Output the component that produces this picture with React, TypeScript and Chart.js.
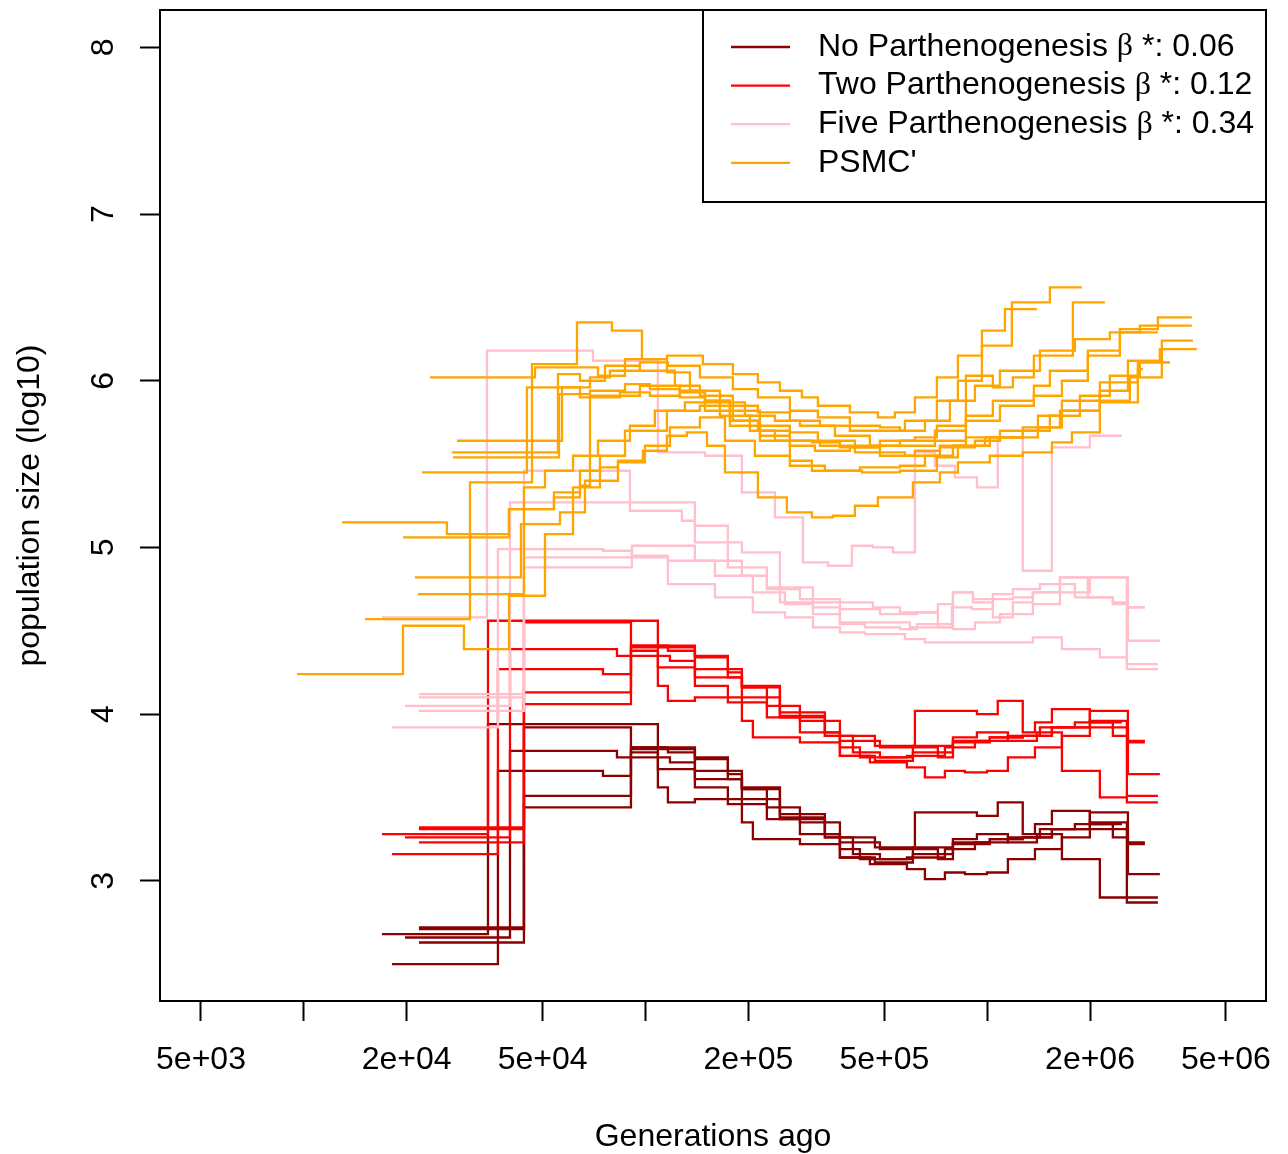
import React, { useEffect, useRef } from "react";
import { Chart, registerables } from "chart.js";

Chart.register(...registerables);

// ---------------------------------------------------------------------------
// Data: step-wise population-size histories (log10 N) against generations ago.
// Each *_GENS row holds the start of every step plus the end of the last one,
// so it is one entry longer than the matching *_LOGN row.
// ---------------------------------------------------------------------------

// Time breakpoints shared by the "No" and "Two" parthenogenesis replicates.
const REP_GENS: number[][] = [
  [16930, 34590, 108700, 139500, 174200, 191500, 247400, 335000, 469300, 614500, 815600, 933300, 1074000, 1271000, 1380000, 1547000, 1998000, 2479000],
  [18110, 36990, 75070, 90660, 139500, 174200, 191500, 247400, 335000, 370700, 424200, 582300, 752200, 920800, 1150000, 1427000, 1998000, 2564000, 3160000],
  [19770, 40120, 82500, 117900, 139500, 191500, 226600, 283100, 370700, 485400, 606200, 793900, 933300, 1150000, 1398000, 1655000, 2137000, 2564000, 3160000],
  [21720, 44080, 90660, 108700, 116300, 139500, 191500, 206200, 283100, 370700, 469300, 606200, 793900, 1018000, 1271000, 1547000, 1998000, 2582000, 3202000],
  [21720, 44080, 90660, 116300, 139500, 191500, 247400, 335000, 404600, 485400, 606200, 717400, 793900, 1018000, 1271000, 1547000, 1806000, 2333000, 2582000, 2895000],
  [21720, 44080, 90660, 108700, 139500, 174200, 226600, 283100, 370700, 453700, 582300, 657400, 752200, 860800, 998300, 1150000, 1380000, 1655000, 1998000, 2582000, 2895000],
];

const NO_PARTH_LOGN: number[][] = [
  [2.68, 3.94, 3.80, 3.74, 3.61, 3.56, 3.38, 3.26, 3.20, 3.41, 3.41, 3.39, 3.47, 3.28, 3.34, 3.42, 3.34],
  [2.50, 3.66, 3.63, 3.79, 3.73, 3.64, 3.55, 3.40, 3.28, 3.19, 3.13, 3.14, 3.19, 3.23, 3.26, 3.31, 3.35, 2.90],
  [2.66, 3.78, 3.74, 3.71, 3.66, 3.55, 3.44, 3.35, 3.23, 3.19, 3.20, 3.25, 3.28, 3.23, 3.28, 3.13, 2.90, 2.87],
  [2.72, 3.92, 3.80, 3.56, 3.47, 3.49, 3.35, 3.25, 3.22, 3.14, 3.11, 3.16, 3.22, 3.25, 3.26, 3.31, 3.41, 3.04],
  [2.71, 3.51, 3.80, 3.77, 3.61, 3.49, 3.37, 3.26, 3.16, 3.13, 3.19, 3.13, 3.23, 3.25, 3.26, 3.31, 3.34, 3.26, 3.23],
  [2.63, 3.44, 3.77, 3.67, 3.56, 3.46, 3.37, 3.28, 3.14, 3.10, 3.07, 3.01, 3.05, 3.04, 3.05, 3.13, 3.19, 3.26, 3.31, 3.22],
];

const TWO_PARTH_LOGN: number[][] = [
  [3.28, 4.56, 4.41, 4.35, 4.22, 4.17, 3.99, 3.87, 3.81, 4.02, 4.02, 4.00, 4.08, 3.89, 3.95, 4.03, 3.95],
  [3.16, 4.27, 4.24, 4.40, 4.34, 4.25, 4.16, 4.01, 3.89, 3.80, 3.74, 3.75, 3.80, 3.84, 3.87, 3.92, 3.96, 3.51],
  [3.26, 4.39, 4.35, 4.32, 4.27, 4.16, 4.05, 3.96, 3.84, 3.80, 3.81, 3.86, 3.89, 3.84, 3.89, 3.66, 3.50, 3.47],
  [3.32, 4.55, 4.41, 4.17, 4.08, 4.10, 3.96, 3.86, 3.83, 3.75, 3.72, 3.77, 3.83, 3.86, 3.87, 3.92, 4.02, 3.64],
  [3.31, 4.13, 4.41, 4.38, 4.22, 4.10, 3.98, 3.87, 3.77, 3.74, 3.80, 3.74, 3.84, 3.86, 3.87, 3.92, 3.95, 3.87, 3.84],
  [3.23, 4.06, 4.38, 4.28, 4.17, 4.07, 3.98, 3.89, 3.75, 3.71, 3.68, 3.62, 3.66, 3.65, 3.66, 3.74, 3.80, 3.87, 3.92, 3.83],
];

const FIVE_PARTH_GENS: number[][] = [
  [16930, 34350, 70190, 108700, 149300, 191500, 239200, 288900, 341800, 401900, 463000, 529800, 614500, 703100, 804700, 933300, 1074000, 1271000, 1547000, 1998000, 2479000],
  [18110, 36990, 75070, 91270, 116300, 159600, 206200, 255900, 309000, 370700, 438700, 574500, 657400, 998300, 1361000, 1655000, 2137000, 2564000, 3160000],
  [19770, 40120, 139500, 191500, 247400, 463000, 555500, 717400, 793900, 908500, 1189000, 1361000, 1633000, 2564000, 3160000],
  [21720, 44080, 90050, 127800, 139500, 174200, 226600, 309000, 370700, 438700, 555500, 622800, 793900, 920800, 1090000, 1361000, 1633000, 1998000, 2582000, 3202000],
  [21720, 44080, 91270, 139500, 191500, 226600, 283100, 370700, 485400, 622800, 717400, 793900, 908500, 1039000, 1189000, 1361000, 1633000, 1971000, 2333000, 2582000, 2895000],
  [21720, 44080, 91270, 116300, 159600, 206200, 255900, 309000, 370700, 485400, 594100, 679800, 788600, 902400, 1039000, 1189000, 1427000, 1806000, 2333000, 2582000, 2895000],
];

const FIVE_PARTH_LOGN: number[][] = [
  [4.58, 6.18, 6.12, 5.57, 5.55, 5.33, 5.18, 4.91, 4.89, 5.01, 5.00, 4.97, 5.57, 5.49, 5.42, 5.36, 5.66, 4.86, 5.60, 5.67],
  [3.92, 4.99, 4.98, 4.94, 4.78, 4.70, 4.61, 4.58, 4.52, 4.49, 4.48, 4.45, 4.43, 4.43, 4.46, 4.39, 4.34, 4.27],
  [4.05, 5.27, 5.03, 4.97, 4.67, 4.64, 4.61, 4.66, 4.73, 4.69, 4.70, 4.73, 4.82, 4.30],
  [4.12, 5.46, 5.22, 5.16, 5.13, 4.88, 4.76, 4.64, 4.54, 4.52, 4.51, 4.54, 4.51, 4.55, 4.60, 4.66, 4.73, 4.82, 4.44],
  [4.10, 4.94, 5.01, 4.92, 4.83, 4.75, 4.69, 4.63, 4.60, 4.61, 4.52, 4.73, 4.67, 4.58, 4.67, 4.73, 4.82, 4.70, 4.67, 4.64],
  [4.02, 4.88, 4.95, 4.92, 4.83, 4.73, 4.66, 4.60, 4.55, 4.55, 4.52, 4.52, 4.64, 4.63, 4.72, 4.75, 4.78, 4.70, 4.66, 4.64],
];

const PSMC_GENS: number[][] = [
  [9550, 19500, 29420, 39850, 50790, 61340, 73570, 83060, 98290, 115500, 132200, 151300, 170800, 213300, 259300, 306900, 353600, 410100, 478800, 606200, 727300, 821100, 1018000, 1271000, 1547000, 1770000, 2137000, 2761000, 2856000],
  [12930, 26230, 39850, 53960, 64300, 73570, 87090, 115500, 144300, 180200, 213300, 264600, 323900, 410100, 485400, 614500, 727300, 866600, 1090000, 1408000, 1655000, 2137000, 2761000, 3425000],
  [15100, 30640, 46530, 63010, 79770, 97630, 115500, 147200, 180200, 213300, 247400, 286900, 319600, 396500, 478800, 537000, 614500, 712600, 821100, 965300, 1127000, 1398000],
  [19500, 39850, 53960, 64300, 68790, 96320, 126100, 149300, 176600, 216200, 264600, 313200, 396500, 485400, 555500, 703100, 866600, 1090000, 1370000, 1655000, 1971000, 2446000, 3160000, 3972000],
  [21140, 43200, 56200, 66500, 83060, 99620, 117900, 144300, 170800, 209000, 264600, 335000, 424200, 555500, 657400, 793900, 985000, 1271000, 1633000, 2137000, 2582000, 3202000, 4108000],
  [21570, 44080, 50790, 61340, 72600, 90050, 106500, 130400, 165100, 202100, 239200, 306900, 370700, 485400, 574500, 727300, 920800, 1090000, 1408000, 1655000, 2137000, 2616000, 3245000, 3999000],
  [22170, 44980, 64300, 84200, 103000, 126100, 149300, 176600, 216200, 264600, 319600, 410100, 485400, 614500, 712600, 866600, 1039000, 1370000, 1526000, 1971000, 2446000, 3160000],
  [23400, 47480, 72600, 87090, 115500, 134900, 165100, 195400, 239200, 283100, 358400, 453700, 703100, 866600, 1039000, 1189000, 1370000, 1782000, 2210000],
  [27130, 55440, 64300, 76090, 96320, 121900, 144300, 180200, 213300, 264600, 323900, 396500, 574500, 712600, 821100, 965300, 1181000, 1526000, 1893000],
  [27320, 55820, 68790, 87090, 103000, 126100, 149300, 176600, 216200, 264600, 306900, 430000, 555500, 712600, 821100, 1018000, 1271000, 1526000, 1868000, 2286000, 2799000, 3425000],
  [28060, 56960, 68790, 78700, 96320, 116300, 144300, 180200, 213300, 264600, 319600, 396500, 485400, 555500, 657400, 778000, 920800, 1090000, 1427000, 1806000, 2286000, 2799000, 3972000],
];

const PSMC_LOGN: number[][] = [
  [4.24, 4.53, 4.39, 4.71, 5.08, 5.36, 5.48, 5.52, 5.58, 5.67, 5.69, 5.61, 5.45, 5.30, 5.21, 5.18, 5.19, 5.25, 5.30, 5.39, 5.45, 5.51, 5.55, 5.57, 5.63, 5.69, 5.87, 6.07],
  [5.15, 5.08, 5.23, 5.33, 5.46, 5.55, 5.70, 5.82, 5.85, 5.76, 5.70, 5.64, 5.61, 5.57, 5.55, 5.58, 5.61, 5.66, 5.70, 5.79, 5.88, 5.99, 6.11],
  [4.57, 5.39, 6.10, 6.35, 6.30, 6.13, 6.15, 6.10, 6.04, 5.99, 5.94, 5.90, 5.85, 5.81, 5.78, 5.81, 5.90, 6.02, 6.15, 6.30, 6.43],
  [5.06, 5.23, 5.30, 5.37, 5.91, 5.97, 5.93, 5.88, 5.76, 5.67, 5.61, 5.58, 5.60, 5.61, 5.64, 5.70, 5.76, 5.85, 5.91, 6.00, 6.18, 6.31, 6.38],
  [4.82, 5.14, 5.21, 5.40, 5.51, 5.61, 5.72, 5.78, 5.64, 5.55, 5.49, 5.46, 5.48, 5.49, 5.55, 5.61, 5.66, 5.72, 5.82, 5.94, 6.12, 6.19],
  [4.72, 5.36, 5.46, 5.55, 5.64, 5.73, 5.82, 5.87, 5.79, 5.70, 5.64, 5.63, 5.60, 5.57, 5.55, 5.60, 5.64, 5.66, 5.72, 5.82, 5.88, 6.02, 6.24],
  [5.45, 5.96, 5.90, 5.93, 5.91, 5.94, 5.88, 5.82, 5.73, 5.69, 5.64, 5.61, 5.64, 5.66, 5.73, 5.79, 5.88, 5.97, 6.06, 6.15, 6.29],
  [6.02, 6.08, 6.03, 6.13, 6.05, 5.94, 5.87, 5.79, 5.76, 5.73, 5.67, 5.61, 5.64, 6.03, 5.96, 6.02, 6.15, 6.47],
  [5.57, 6.04, 6.00, 6.09, 6.06, 5.97, 5.91, 5.85, 5.81, 5.76, 5.73, 5.70, 5.76, 5.88, 6.00, 6.21, 6.47, 6.56],
  [5.54, 5.92, 5.94, 5.98, 5.95, 5.90, 5.82, 5.73, 5.64, 5.52, 5.46, 5.45, 5.46, 5.54, 5.61, 5.66, 5.70, 5.79, 5.91, 6.03, 6.11],
  [5.64, 5.96, 6.02, 6.06, 6.11, 6.09, 6.02, 5.95, 5.90, 5.82, 5.78, 5.73, 5.72, 5.70, 5.76, 5.88, 5.97, 6.06, 6.18, 6.25, 6.29, 6.33],
];

// Axis ticks and labels
const X_TICKS = [5e3, 1e4, 2e4, 5e4, 1e5, 2e5, 5e5, 1e6, 2e6, 5e6];
const X_TICK_LABELS = ["5e+03", "", "2e+04", "5e+04", "", "2e+05", "5e+05", "", "2e+06", "5e+06"];
const Y_TICKS = [3, 4, 5, 6, 7, 8];
const X_RANGE = [3793, 6.548e6];
const Y_RANGE = [2.279, 8.224];

const X_TITLE = "Generations ago";
const Y_TITLE = "population size (log10)";

const SERIES_NAMES = [
  "No Parthenogenesis β *: 0.06",
  "Two Parthenogenesis β *: 0.12",
  "Five Parthenogenesis β *: 0.34",
  "PSMC'",
];
const SERIES_COLORS = ["#8B0000", "#FF0000", "#FFC0CB", "#FFA500"];

const SANS = "'Liberation Sans', Arial, Helvetica, sans-serif";
const SERIF = "'Liberation Serif', 'DejaVu Serif', serif";
const FONT_PX = 32;
const LINE_W = 2.3;

function stepPoints(gens: number[], logn: number[]) {
  const pts = logn.map((v, i) => ({ x: gens[i], y: v }));
  pts.push({ x: gens[logn.length], y: logn[logn.length - 1] });
  return pts;
}

function lineSet(gens: number[], logn: number[], color: string) {
  return {
    data: stepPoints(gens, logn),
    borderColor: color,
    backgroundColor: color,
    borderWidth: LINE_W,
    stepped: "before" as const,
    pointRadius: 0,
    fill: false,
  };
}

// Frame, rotated y labels, axis titles and the legend box.
const decorations = {
  id: "decorations",
  beforeDraw(chart: any) {
    const { ctx, width, height } = chart;
    ctx.save();
    ctx.fillStyle = "#ffffff";
    ctx.fillRect(0, 0, width, height);
    ctx.restore();
  },
  afterDraw(chart: any) {
    const { ctx, chartArea: a, scales } = chart;
    ctx.save();
    ctx.strokeStyle = "#000";
    ctx.lineWidth = 2;
    ctx.strokeRect(a.left, a.top, a.right - a.left, a.bottom - a.top);

    ctx.fillStyle = "#000";
    ctx.font = `${FONT_PX}px ${SANS}`;
    ctx.textAlign = "center";
    ctx.textBaseline = "middle";
    for (const v of Y_TICKS) {
      const y = scales.y.getPixelForValue(v);
      ctx.save();
      ctx.translate(a.left - 56, y);
      ctx.rotate(-Math.PI / 2);
      ctx.fillText(String(v), 0, 0);
      ctx.restore();
    }

    ctx.fillText(X_TITLE, (a.left + a.right) / 2, 1137);
    ctx.save();
    ctx.translate(30, (a.top + a.bottom) / 2);
    ctx.rotate(-Math.PI / 2);
    ctx.fillText(Y_TITLE, 0, 0);
    ctx.restore();

    // legend
    const boxL = 703;
    const boxT = a.top;
    const boxR = a.right;
    const boxB = 202;
    ctx.fillStyle = "#fff";
    ctx.fillRect(boxL, boxT, boxR - boxL, boxB - boxT);
    ctx.strokeStyle = "#000";
    ctx.lineWidth = 2;
    ctx.strokeRect(boxL, boxT, boxR - boxL, boxB - boxT);
    ctx.textAlign = "left";
    ctx.textBaseline = "middle";
    SERIES_NAMES.forEach((name, i) => {
      const y = boxT + 37 + i * 38.6;
      ctx.strokeStyle = SERIES_COLORS[i];
      ctx.lineWidth = LINE_W;
      ctx.beginPath();
      ctx.moveTo(boxL + 28, y);
      ctx.lineTo(boxL + 87, y);
      ctx.stroke();
      ctx.fillStyle = "#000";
      let x = boxL + 115;
      const parts = name.split("β");
      parts.forEach((part, j) => {
        ctx.font = `${FONT_PX}px ${SANS}`;
        ctx.fillText(part, x, y);
        x += ctx.measureText(part).width;
        if (j < parts.length - 1) {
          ctx.font = `${FONT_PX}px ${SERIF}`;
          ctx.fillText("β", x, y);
          x += ctx.measureText("β").width;
        }
      });
    });
    ctx.restore();
  },
};

export default function App() {
  const canvasRef = useRef<HTMLCanvasElement | null>(null);

  useEffect(() => {
    const canvas = canvasRef.current;
    if (!canvas) return;

    // Orange first so it is painted last (on top), dark red at the bottom.
    const datasets = [
      ...PSMC_LOGN.map((v, i) => lineSet(PSMC_GENS[i], v, SERIES_COLORS[3])),
      ...FIVE_PARTH_LOGN.map((v, i) => lineSet(FIVE_PARTH_GENS[i], v, SERIES_COLORS[2])),
      ...TWO_PARTH_LOGN.map((v, i) => lineSet(REP_GENS[i], v, SERIES_COLORS[1])),
      ...NO_PARTH_LOGN.map((v, i) => lineSet(REP_GENS[i], v, SERIES_COLORS[0])),
    ];

    const tickGrid = {
      display: true,
      drawOnChartArea: false,
      drawTicks: true,
      tickLength: 20,
      tickWidth: 2,
      tickColor: "#000",
    };

    const chart = new Chart(canvas, {
      type: "line",
      data: { datasets },
      plugins: [decorations],
      options: {
        animation: false,
        responsive: false,
        devicePixelRatio: 1,
        events: [],
        layout: { padding: { left: 0, top: 10, right: 22, bottom: 0 } },
        plugins: { legend: { display: false }, tooltip: { enabled: false } },
        scales: {
          x: {
            type: "logarithmic",
            min: X_RANGE[0],
            max: X_RANGE[1],
            afterBuildTicks: (scale: any) => {
              scale.ticks = X_TICKS.map((value) => ({ value }));
            },
            afterFit: (scale: any) => {
              scale.height = 153;
              scale.paddingLeft = 0;
              scale.paddingRight = 0;
            },
            grid: tickGrid,
            border: { display: false },
            ticks: {
              autoSkip: false,
              maxRotation: 0,
              minRotation: 0,
              padding: 20,
              color: "#000",
              font: { size: FONT_PX, family: SANS },
              callback: (_v: any, index: number) => X_TICK_LABELS[index],
            },
          },
          y: {
            type: "linear",
            min: Y_RANGE[0],
            max: Y_RANGE[1],
            afterBuildTicks: (scale: any) => {
              scale.ticks = Y_TICKS.map((value) => ({ value }));
            },
            afterFit: (scale: any) => {
              scale.width = 160;
              scale.paddingTop = 0;
              scale.paddingBottom = 0;
            },
            grid: tickGrid,
            border: { display: false },
            ticks: { display: false },
          },
        },
      } as any,
    });

    return () => chart.destroy();
  }, []);

  return (
    <div style={{ position: "absolute", left: 0, top: 0, width: 1288, height: 1154, background: "#fff" }}>
      <canvas ref={canvasRef} width={1288} height={1154} style={{ display: "block" }} />
    </div>
  );
}
